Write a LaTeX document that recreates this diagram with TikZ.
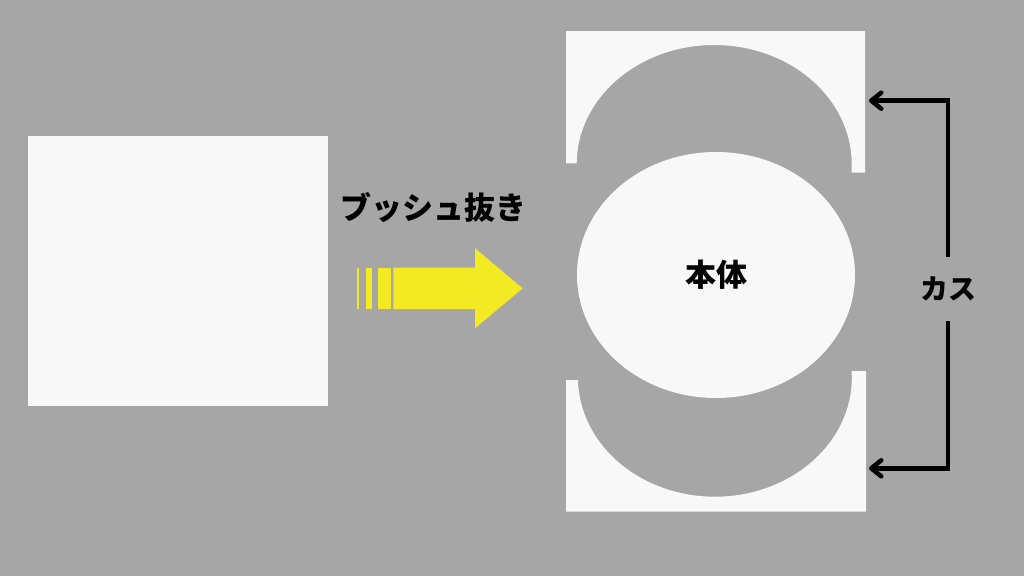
\documentclass[tikz,border=0pt]{standalone}
\usepackage{fontspec}
\newfontfamily\jpfont{Noto Sans CJK JP}
\usetikzlibrary{shapes,arrows.meta,positioning}
\usepackage{xcolor}
\definecolor{bggray}{RGB}{166,166,166}
\definecolor{sheetwhite}{RGB}{248,248,248}
\definecolor{pushyellow}{RGB}{243,234,35}

\begin{document}
\begin{tikzpicture}[x=1pt, y=-1pt, >={Straight Barb[length=10pt,width=16pt,round]}]
        \tikzstyle{sheet}=[fill=sheetwhite, inner sep=0pt]
        \tikzstyle{jptext}=[text=black, inner sep=0pt, font=\jpfont\bfseries\fontsize{31}{36}\selectfont]
        \tikzstyle{bracket}=[->, black, line width=4.5pt]
        \fill[bggray] (0,0) rectangle (1024,576);
        \useasboundingbox (0,0) rectangle (1024,576);
        \node[sheet, minimum width=300pt, minimum height=270pt]           (blank) at (178,271)     {};
        \node[jptext]                                                     (push)  at (433.5,207.5) {ブッシュ抜き};
        \fill[pushyellow] (393.3,267.7) -- (475,267.7) -- (475,248.3) -- (522.7,288.3)
            -- (475,328.3) -- (475,309) -- (393.3,309) -- cycle;
        \foreach \a/\b in {356.7/359.3, 366/372.3, 377.7/390.7}
            \fill[pushyellow] (\a,267.7) rectangle (\b,309);
        \fill[sheetwhite] (566,31) -- (865,31) -- (865,172.7) -- (851.7,172.7) -- (851.7,164)
            arc[start angle=0, end angle=-180, x radius=137.5, y radius=119]
            -- (576.7,163.3) -- (566,163.3) -- cycle;
        \fill[sheetwhite] (566,380) -- (578,380) -- (578,377.7)
            arc[start angle=180, end angle=0, x radius=136.9, y radius=119]
            -- (851.7,371) -- (866,371) -- (866,511.7) -- (566,511.7) -- cycle;
        \node[sheet, ellipse, minimum width=278pt, minimum height=246pt, jptext, fill=sheetwhite] (body) at (716,275) {本体};
        \node[jptext, font=\jpfont\bfseries\fontsize{28}{32}\selectfont, minimum height=63.3pt] (kasu) at (948,289) {カス};
        \coordinate (topend) at (869,100.7);
        \coordinate (botend) at (869,468.3);
        \draw[bracket] (kasu.north) |- (topend);
        \draw[bracket] (kasu.south) |- (botend);
\end{tikzpicture}
\end{document}
